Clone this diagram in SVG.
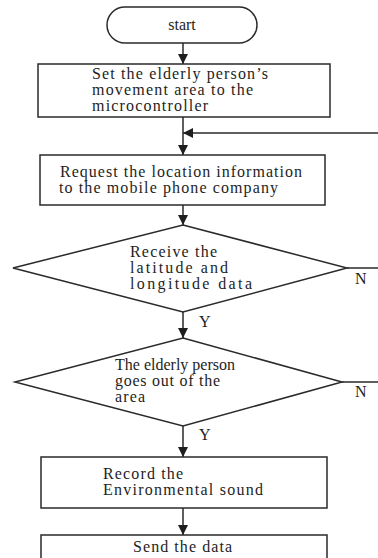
<svg xmlns="http://www.w3.org/2000/svg" width="378" height="558" viewBox="0 0 378 558">
<defs>
<style>
.s{fill:#fff;stroke:#2a2a2a;stroke-width:1.5}
.c{fill:none;stroke:#2a2a2a;stroke-width:1.5}
text{font-family:"Liberation Serif","Times New Roman",serif;font-size:16px;fill:#1e1e1e}
</style>
<marker id="ah" viewBox="0 0 10 10" refX="10" refY="5" markerWidth="10" markerHeight="10" markerUnits="userSpaceOnUse" orient="auto">
<path d="M0,0 L10,5 L0,10 Z" fill="#1e1e1e"/>
</marker>
</defs>
<rect width="378" height="558" fill="#fff"/>
<g id="connectors">
<line class="c" x1="183" y1="43" x2="183" y2="64" marker-end="url(#ah)"/>
<line class="c" x1="183" y1="117" x2="183" y2="155" marker-end="url(#ah)"/>
<line class="c" x1="378" y1="133" x2="183" y2="133" marker-end="url(#ah)"/>
<line class="c" x1="183" y1="205" x2="183" y2="225" marker-end="url(#ah)"/>
<line class="c" x1="183" y1="312" x2="183" y2="338" marker-end="url(#ah)"/>
<line class="c" x1="347" y1="268" x2="378" y2="268"/>
<line class="c" x1="183" y1="426" x2="183" y2="457" marker-end="url(#ah)"/>
<line class="c" x1="342" y1="382" x2="378" y2="382"/>
<line class="c" x1="183" y1="508" x2="183" y2="535" marker-end="url(#ah)"/>
<text x="199" y="327">Y</text>
<text x="355" y="284">N</text>
<text x="199" y="440">Y</text>
<text x="355" y="397">N</text>
</g>
<g id="start">
<rect class="s" x="107" y="7" width="150" height="36" rx="18" ry="18"/>
<text x="182" y="30" text-anchor="middle">start</text>
</g>
<g id="set-area">
<rect class="s" x="38" y="64" width="292" height="53"/>
<text x="92" y="79" textLength="176" lengthAdjust="spacing">Set the elderly person’s</text>
<text x="92" y="95" textLength="161" lengthAdjust="spacing">movement area to the</text>
<text x="92" y="111" textLength="116" lengthAdjust="spacing">microcontroller</text>
</g>
<g id="request">
<rect class="s" x="40" y="155" width="285" height="50"/>
<text x="60" y="177" textLength="242" lengthAdjust="spacing">Request the location  information</text>
<text x="59" y="193" textLength="219" lengthAdjust="spacing">to the mobile phone company</text>
</g>
<g id="receive">
<polygon class="s" points="183,225 347,268 183,312 13,268"/>
<text x="130" y="257" textLength="87" lengthAdjust="spacing">Receive the</text>
<text x="130" y="273" textLength="98" lengthAdjust="spacing">latitude and</text>
<text x="130" y="289" textLength="122" lengthAdjust="spacing">longitude data</text>
</g>
<g id="out-of-area">
<polygon class="s" points="183,338 342,382 183,426 15,382"/>
<text x="115" y="370" textLength="120" lengthAdjust="spacing">The elderly person</text>
<text x="115" y="386" textLength="105" lengthAdjust="spacing">goes out of the</text>
<text x="115" y="402" textLength="30" lengthAdjust="spacing">area</text>
</g>
<g id="record">
<rect class="s" x="41" y="457" width="286" height="51"/>
<text x="103" y="479" textLength="80" lengthAdjust="spacing">Record the</text>
<text x="103" y="495" textLength="160" lengthAdjust="spacing">Environmental sound</text>
</g>
<g id="send">
<rect class="s" x="41" y="535" width="286" height="40"/>
<text x="133" y="552" textLength="99" lengthAdjust="spacing">Send the data</text>
</g>
</svg>
